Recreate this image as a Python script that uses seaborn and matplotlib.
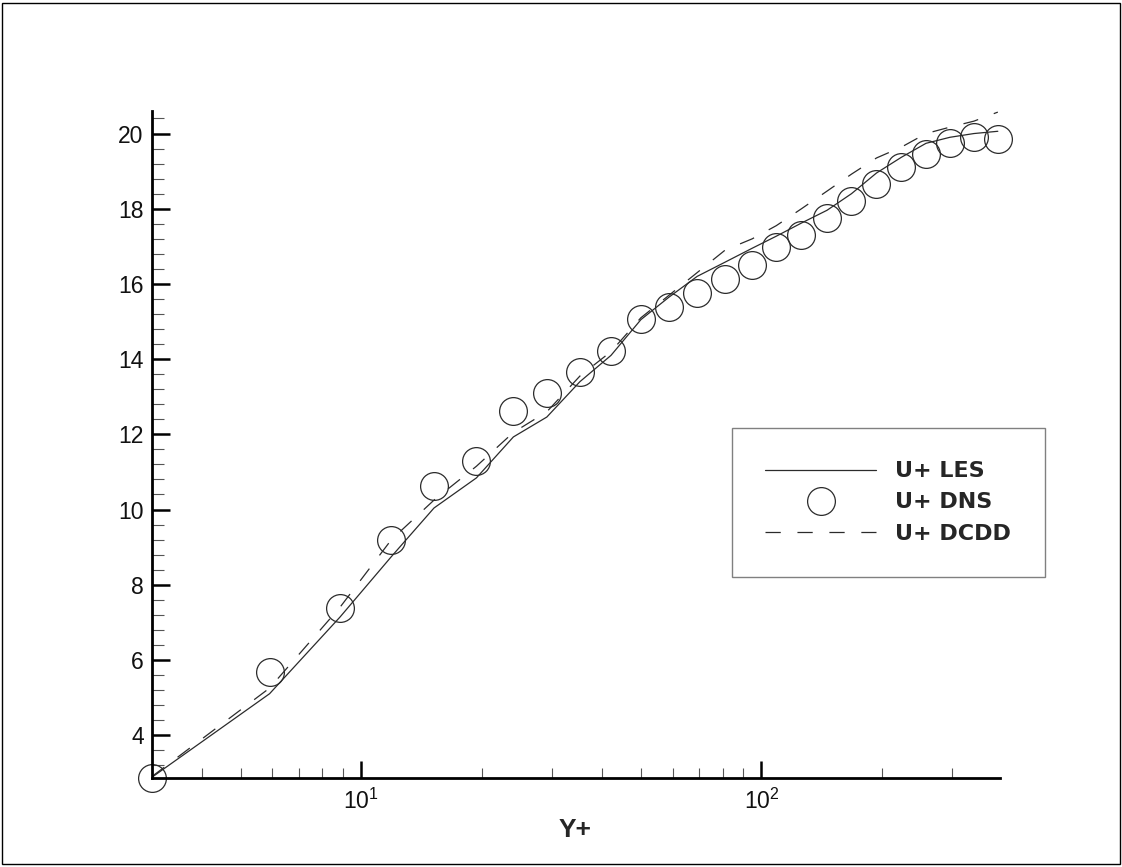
import matplotlib
matplotlib.use("Agg")
import matplotlib.pyplot as plt
import seaborn as sns
import pandas as pd
from matplotlib.ticker import MultipleLocator, LogLocator, NullFormatter
from matplotlib.patches import Rectangle

# values
y_plus = [3.0, 5.9, 8.85, 11.9, 15.2, 19.4, 24.0, 29.1, 35.2, 42.1, 50.0, 58.8, 69.1,
          81.2, 94.9, 109, 126, 146, 168, 194, 224, 258, 296, 340, 390]
u_les = [2.88, 5.1, 7.14, 8.75, 10.04, 10.84, 11.93, 12.46, 13.4, 14.1, 15.05, 15.65, 16.2,
         16.58, 16.95, 17.27, 17.62, 17.96, 18.4, 18.95, 19.37, 19.74, 19.9, 20.0, 20.06]
u_dns = [2.86, 5.68, 7.38, 9.19, 10.62, 11.29, 12.62, 13.1, 13.65, 14.21, 15.06, 15.38, 15.76,
         16.13, 16.5, 16.98, 17.3, 17.75, 18.2, 18.65, 19.1, 19.45, 19.74, 19.9, 19.85]
u_dcdd = [2.9, 5.25, 7.4, 9.2, 10.25, 11.15, 12.05, 12.6, 13.55, 14.2, 15.1, 15.7, 16.3,
          16.9, 17.2, 17.55, 18.0, 18.47, 18.92, 19.35, 19.64, 20.0, 20.17, 20.33, 20.57]

df = pd.DataFrame({"y_plus": y_plus, "les": u_les, "dns": u_dns, "dcdd": u_dcdd})

sns.set_style("white")
plt.rcParams["font.family"] = ["Liberation Sans", "DejaVu Sans"]
plt.rcParams["lines.scale_dashes"] = False

fig = plt.figure(figsize=(11.22, 8.67), dpi=100)
ax = fig.add_axes([0.1355, 0.1027, 0.7558, 0.7693])

line_col = "#2b2b2b"
sns.lineplot(data=df, x="y_plus", y="les", ax=ax, color=line_col, lw=0.9,
             estimator=None, label="U+ LES")
sns.lineplot(data=df, x="y_plus", y="dns", ax=ax, color=line_col, linestyle="",
             marker="o", markersize=20, markerfacecolor="none",
             markeredgecolor=line_col, markeredgewidth=0.9,
             estimator=None, label="U+ DNS", clip_on=False)
sns.lineplot(data=df, x="y_plus", y="dcdd", ax=ax, color=line_col, lw=0.9,
             estimator=None, label="U+ DCDD")
ax.lines[-1].set_dashes((11, 12))

ax.set_xscale("log")
ax.set_xlim(3, 395)
ax.set_ylim(2.86, 20.6)

ax.set_yticks(range(4, 21, 2))
ax.yaxis.set_minor_locator(MultipleLocator(0.4))
ax.xaxis.set_major_locator(LogLocator(base=10))
ax.xaxis.set_minor_locator(LogLocator(base=10, subs=range(2, 10)))
ax.xaxis.set_minor_formatter(NullFormatter())

for s in ["top", "right"]:
    ax.spines[s].set_visible(False)
for s in ["left", "bottom"]:
    ax.spines[s].set_linewidth(2.0)
    ax.spines[s].set_color("black")

ax.tick_params(which="both", bottom=True, left=True, top=False, right=False)
ax.tick_params(axis="both", which="major", direction="in", width=1.8,
               color="black", labelsize=16.5, labelcolor="#111111")
ax.tick_params(axis="y", which="major", length=13, pad=6)
ax.tick_params(axis="x", which="major", length=12, pad=8)
ax.tick_params(axis="y", which="minor", direction="in", length=8.5, width=0.8, color="#555555")
ax.tick_params(axis="x", which="minor", direction="in", length=7, width=0.8, color="#555555")

ax.set_ylabel("")
ax.set_xlabel("Y+", fontsize=19, fontweight="bold")
ax.xaxis.set_label_coords(0.499, -0.06)

leg = ax.legend(loc="upper left", bbox_to_anchor=(0.6524, 0.5063),
                bbox_transform=fig.transFigure, borderaxespad=0,
                prop={"family": "DejaVu Sans", "weight": "bold", "size": 16},
                handlelength=5.0, handletextpad=0.85, labelspacing=0.5,
                borderpad=1.5, fancybox=False, framealpha=1)
leg.get_frame().set_edgecolor("#808080")
leg.get_frame().set_linewidth(1.0)

fig.patches.append(Rectangle((0.002, 0.003), 0.996, 0.994, transform=fig.transFigure,
                             fill=False, edgecolor="black", lw=1.0))

fig.savefig("out.png", dpi=100)
